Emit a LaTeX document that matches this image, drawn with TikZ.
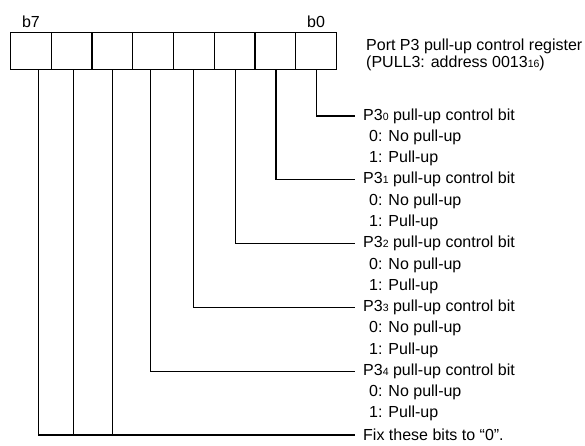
\documentclass[tikz,border=0pt]{standalone}
\usepackage{fontspec}
\setmainfont{Liberation Sans}
\newcommand{\sbs}[1]{{\fontsize{10.5}{10.5}\selectfont #1}}
\begin{document}
\begin{tikzpicture}[x=1pt,y=-1pt,
  every node/.style={font=\fontsize{16}{17}\selectfont},
  cell/.style={draw, line width=1.2pt, minimum width=40.725pt, minimum height=37pt, inner sep=0pt, anchor=north west},
  lbl/.style={anchor=west, inner xsep=0pt, inner ysep=1pt},
  wire/.style={line width=1.2pt}]
\useasboundingbox (0,0) rectangle (585,445);
% register cells
\foreach \i in {0,...,7}
  \node[cell] (c\i) at ({10+40.725*(7-\i)},32) {};
\node (b7) at (31,22) {b7};
\node (b0) at (316,22) {b0};
% title
\node[lbl] (title1) at (366,46) {Port P3 pull-up control register};
\node[lbl] (title2) at (366,63) {(PULL3: address 0013\sbs{16})};
% bit descriptions
\foreach \k in {0,...,4} {
  \node[lbl] (t\k) at (363,{116+63.8*\k}) {P3\sbs{\k} pull-up control bit};
  \node[lbl] (z\k) at (369,{116+63.8*\k+21.27}) {0: No pull-up};
  \node[lbl] (o\k) at (369,{116+63.8*\k+42.54}) {1: Pull-up};
}
\node[lbl] (fix) at (363,435) {Fix these bits to “0”.};
% connectors
\draw[wire] ([xshift=0.6pt]c0.south) |- ([xshift=-8pt]t0.west);
\draw[wire] ([xshift=0.6pt]c1.south) |- ([xshift=-8pt]t1.west);
\draw[wire] ([xshift=1pt]c2.south) |- ([xshift=-8pt]t2.west);
\draw[wire] ([xshift=-0.6pt]c3.south) |- ([xshift=-8pt]t3.west);
\draw[wire] ([xshift=-2.6pt]c4.south) |- ([xshift=-8pt]t4.west);
\draw[wire] ([xshift=7.3pt]c7.south) |- ([xshift=-8pt]fix.west);
\draw[wire] ([xshift=1.7pt]c6.south) -- ([xshift=1.7pt]c6.south |- fix.west);
\draw[wire] ([xshift=0pt]c5.south) -- (c5.south |- fix.west);
\end{tikzpicture}
\end{document}
